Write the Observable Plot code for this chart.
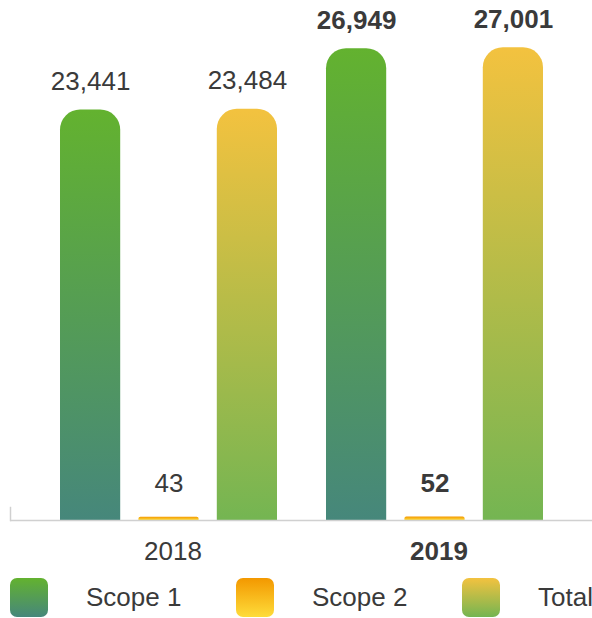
<!DOCTYPE html>
<html><head><meta charset="utf-8">
<script src="https://cdn.jsdelivr.net/npm/d3@7"></script>
<script src="https://cdn.jsdelivr.net/npm/@observablehq/plot@0.6"></script>
<style>
body{margin:0;background:#fff;font-family:"Liberation Sans",Arial,Helvetica,sans-serif;width:592px;overflow:hidden}
#legend{display:flex;margin-top:8px;white-space:nowrap;width:592px;overflow:hidden}
.item{flex:0 0 226px;display:flex;align-items:center;padding-left:10px;box-sizing:border-box}
.sw{width:38px;height:39px;border-radius:7px;flex:0 0 38px}
.lab{margin-left:38px;font-size:26px;color:#3a3a3a}
</style></head><body><div id="chart"></div><div id="legend"></div>
<script>
const years = ["2018", "2019"];
const series = ["Scope 1", "Scope 2", "Total"];
const scope1 = [23441, 26949];
const scope2 = [43, 52];
const total = [23484, 27001];
const colorTop = ["#63b22f", "#f39800", "#f3c23f"];
const colorBottom = ["#46877b", "#fedc3a", "#74b552"];

const values = [scope1, scope2, total];
const slot = 78.4;
const fmt = d3.format(",");
const textColor = "#3a3a3a";
const marks = [];

series.forEach((s, i) => {
  const data = years.map((y, j) => ({year: y, series: s, value: values[i][j]}));
  const r = i === 1 ? 2 : 20;
  marks.push(Plot.barY(data, {
    x: "year", y: "value", fill: `url(#grad${i})`,
    insetLeft: i * slot, insetRight: (2 - i) * slot,
    insetTop: i === 1 ? -2.5 : 0,
    rx1y1: r, rx2y1: r
  }));
  years.forEach((y, j) => {
    marks.push(Plot.text([data[j]], {
      x: "year", y: "value", text: d => fmt(d.value),
      dx: (i - 1) * slot, dy: i === 1 ? -28 : -20, lineAnchor: "bottom",
      fontSize: 26, fontWeight: j === 1 ? "bold" : "normal", fill: textColor
    }));
  });
});

marks.push(Plot.ruleY([0], {stroke: "#d0d0d0", strokeWidth: 1.5}));
marks.push(Plot.frame({anchor: "left", insetTop: 507, stroke: "#d0d0d0", strokeWidth: 1.5}));
years.forEach((y, j) => {
  marks.push(Plot.text([y], {
    x: d => d, frameAnchor: "bottom", dy: 31, dx: 4, lineAnchor: "middle",
    fontSize: 26, fontWeight: j === 1 ? "bold" : "normal", fill: textColor
  }));
});

const chart = Plot.plot({
  width: 592, height: 570,
  marginTop: 0, marginBottom: 50, marginLeft: 10, marginRight: 0,
  x: {domain: years, padding: 0.1857, axis: null},
  y: {domain: [0, d3.max(total) * 1.1], axis: null},
  style: {fontFamily: '"Liberation Sans", Arial, Helvetica, sans-serif', background: "#fff", overflow: "visible"},
  marks
});

const defs = d3.select(chart).insert("defs", ":first-child");
series.forEach((s, i) => {
  const g = defs.append("linearGradient").attr("id", `grad${i}`)
    .attr("x1", 0).attr("y1", 0).attr("x2", 0).attr("y2", 1);
  g.append("stop").attr("offset", "0%").attr("stop-color", colorTop[i]);
  g.append("stop").attr("offset", "100%").attr("stop-color", colorBottom[i]);
});
document.getElementById("chart").appendChild(chart);

const legend = d3.select("#legend");
series.forEach((s, i) => {
  const it = legend.append("div").attr("class", "item");
  it.append("div").attr("class", "sw")
    .style("background", `linear-gradient(to bottom, ${colorTop[i]}, ${colorBottom[i]})`);
  it.append("span").attr("class", "lab").text(s);
});
</script></body></html>
